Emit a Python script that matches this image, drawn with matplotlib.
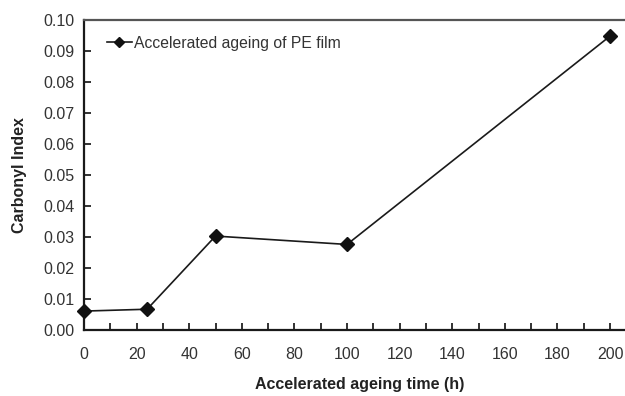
import matplotlib.pyplot as plt
from matplotlib.ticker import MultipleLocator

plt.rcParams['font.family'] = ['Liberation Sans', 'DejaVu Sans']

# carbonyl index of PE film vs accelerated ageing time
time_h = [0, 24, 50, 100, 200]
carbonyl = [0.0061, 0.0067, 0.0303, 0.0276, 0.0948]

fig = plt.figure(figsize=(6.25, 3.96), dpi=100)
ax = fig.add_axes([84/625, 66/396, 541/625, 310/396])

ax.plot(time_h, carbonyl, color='#1a1a1a', lw=1.2, marker='D', ms=6.8,
        mfc='#111111', mec='#111111', label='Accelerated ageing of PE film',
        clip_on=False, zorder=3)

ax.set_xlim(0, 205.7)
ax.set_ylim(0, 0.10)
ax.xaxis.set_major_locator(MultipleLocator(20))
ax.xaxis.set_minor_locator(MultipleLocator(10))
ax.yaxis.set_major_locator(MultipleLocator(0.01))
ax.yaxis.set_major_formatter(plt.FormatStrFormatter('%.2f'))

ax.tick_params(axis='both', which='both', direction='in', colors='#222222',
               labelcolor='#333333', labelsize=11.5, width=1.3)
ax.tick_params(axis='both', which='major', length=5)
ax.tick_params(axis='x', which='minor', length=5)
ax.tick_params(axis='x', pad=12)
ax.tick_params(axis='y', pad=7)

for side in ['left', 'bottom']:
    ax.spines[side].set_color('#1a1a1a')
    ax.spines[side].set_linewidth(1.6)
ax.spines['top'].set_color('#555555')
ax.spines['top'].set_linewidth(1.6)
ax.spines['right'].set_visible(False)

ax.set_xlabel('Accelerated ageing time (h)', fontsize=11.5, fontweight='bold',
              color='#222222')
ax.set_ylabel('Carbonyl Index', fontsize=11.5, fontweight='bold',
              color='#222222')
ax.xaxis.label.set_va('center')
ax.xaxis.set_label_coords((360-84)/541, -0.175)
ax.yaxis.set_label_coords(-(84-27)/541, 0.50)

ax.legend(loc='upper left', frameon=False, fontsize=11.3, handlelength=1.6,
          handletextpad=0.15, borderaxespad=0.6, labelcolor='#333333',
          markerscale=0.75, bbox_to_anchor=(0.013, 1.0))

fig.savefig('out.png', dpi=100)
